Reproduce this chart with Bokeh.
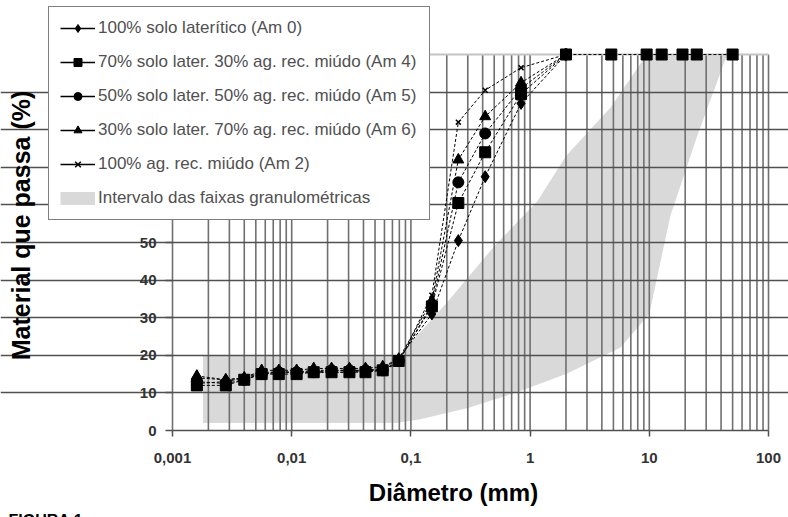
from bokeh.plotting import figure
from bokeh.models import Range1d, FixedTicker, Legend, LegendItem, Label
from bokeh.embed import file_html
from bokeh.resources import INLINE

# ---------------- data ----------------
diam = [0.0016, 0.0028, 0.004, 0.0056, 0.0078, 0.011, 0.0153, 0.0216,
        0.0305, 0.0416, 0.058, 0.079, 0.15, 0.25, 0.42, 0.84, 2.0]
diam_am4 = [0.0016, 0.0028, 0.004, 0.0056, 0.0078, 0.011, 0.0153, 0.0216,
            0.0305, 0.0416, 0.058, 0.079, 0.15, 0.25, 0.42, 0.84, 2.0,
            4.8, 9.5, 12.7, 19.0, 25.0, 50.0]

am0 = [14, 13.5, 14, 15.5, 15.5, 15.5, 16, 16, 16, 16, 16.5, 19, 31, 50.5, 67.5, 87, 100]
am4 = [12, 12, 13.5, 15, 15, 15, 15.5, 15.5, 15.5, 15.5, 16, 18.5, 33, 60.5, 74, 89.5, 100,
       100, 100, 100, 100, 100, 100]
am5 = [13, 12.5, 13.5, 15, 15.5, 15.5, 15.5, 16, 16, 16, 16, 18.5, 33.5, 66, 79, 91, 100]
am6 = [14.5, 13.5, 14, 16, 16, 16, 16.5, 16.5, 16.5, 16.5, 17, 19, 34.5, 72, 83.5, 92.5, 100]
am2 = [12.5, 13, 14, 15, 15.5, 15.5, 15.5, 15.5, 15.5, 16, 16, 18, 36, 82, 90.5, 96.5, 100]

series_names = [
    "100% solo laterítico (Am 0)",
    "70% solo later. 30% ag. rec. miúdo (Am 4)",
    "50% solo later. 50% ag. rec. miúdo (Am 5)",
    "30% solo later. 70% ag. rec. miúdo (Am 6)",
    "100% ag. rec. miúdo (Am 2)",
]
band_name = "Intervalo das faixas granulométricas"

# envelope of the granulometric bands
band_upper_x = [0.0018, 0.08, 0.2, 0.5, 1.15, 2.0, 4.75, 9.5, 45.0]
band_upper_y = [20, 20, 34, 49, 61, 73, 86, 100, 100]
band_lower_x = [0.0018, 0.075, 0.12, 0.3, 0.83, 2.0, 5.7, 10.0, 15.0, 25.0, 45.0]
band_lower_y = [2, 2, 3, 6, 10.5, 15, 22, 31, 57, 78, 100]

x_tick_values = [0.001, 0.01, 0.1, 1, 10, 100]
x_tick_labels = ["0,001", "0,01", "0,1", "1", "10", "100"]
y_tick_values = [0, 10, 20, 30, 40, 50, 60, 70, 80, 90, 100]

# ---------------- layout geometry (pixels) ----------------
W, H = 788, 517
X_LEFT_PX, X_RIGHT_PX = 172, 768      # pixel of 0.001 and of 100
Y_ZERO_PX, Y_HUNDRED_PX = 430, 54     # pixel of 0 % and of 100 %
dec_px = (X_RIGHT_PX - X_LEFT_PX) / 5.0
unit_px = (Y_ZERO_PX - Y_HUNDRED_PX) / 100.0
x0 = 10 ** (-3 - X_LEFT_PX / dec_px)
x1 = 10 ** (2 + (W - X_RIGHT_PX) / dec_px)
y0 = -(H - Y_ZERO_PX) / unit_px
y1 = 100 + Y_HUNDRED_PX / unit_px

FONT = "Liberation Sans"
p = figure(width=W, height=H, x_axis_type="log",
           x_range=Range1d(x0, x1), y_range=Range1d(y0, y1),
           output_backend="svg", toolbar_location=None,
           min_border=0, min_border_left=0, min_border_right=0,
           min_border_top=0, min_border_bottom=0)
p.outline_line_color = None
p.background_fill_color = "white"
p.border_fill_color = "white"

# grid
p.xgrid.visible = False
p.ygrid.ticker = FixedTicker(ticks=[10, 20, 30, 40, 50, 60, 70, 80, 90])
p.ygrid.bounds = (0.001, 100)
p.ygrid.grid_line_color = "#505050"
p.ygrid.grid_line_width = 1.6

vlines = []
for e in range(-3, 2):
    for k in range(1, 10):
        vlines.append(k * 10.0 ** e)
vlines.append(100.0)
p.segment(x0=vlines, y0=[0] * len(vlines), x1=vlines, y1=[100] * len(vlines),
          line_color="#707070", line_width=1.6, level="underlay")
p.segment(x0=[0.001], y0=[100], x1=[100], y1=[100],
          line_color="#c4c4c4", line_width=2, level="underlay")
# x axis rule
p.segment(x0=[0.001], y0=[0], x1=[100], y1=[0],
          line_color="#505050", line_width=1.6, level="underlay")

# band
band_x = band_upper_x + band_lower_x[::-1]
band_y = band_upper_y + band_lower_y[::-1]
p.patch(band_x, band_y, fill_color="#d9d9d9", line_color=None, level="image")

# axes (drawn at fixed data locations inside the canvas)
p.xaxis.fixed_location = 0
p.yaxis.fixed_location = 0.001
p.xaxis.ticker = FixedTicker(ticks=x_tick_values)
p.xaxis.major_label_overrides = dict(zip(x_tick_values, x_tick_labels))
p.yaxis.ticker = FixedTicker(ticks=y_tick_values)
p.xaxis.bounds = (10 ** -3.3, 10 ** 2.014)
p.yaxis.bounds = (0, 109)
for ax in (p.xaxis[0], p.yaxis[0]):
    ax.axis_line_color = None
    ax.minor_tick_line_color = None
    ax.major_tick_line_color = "#505050"
    ax.major_tick_line_width = 1.5
    ax.major_tick_in = 0
    ax.major_label_text_font = FONT
    ax.major_label_text_font_style = "bold"
    ax.major_label_text_font_size = "15px"
    ax.major_label_text_color = "#333333"
    ax.axis_label_text_font = FONT
    ax.axis_label_text_font_style = "bold"
    ax.axis_label_text_color = "black"
p.xaxis.major_tick_out = 6
p.xaxis.major_label_standoff = 16
p.xaxis.axis_label = "Diâmetro (mm)"
p.xaxis.axis_label_text_font_size = "24px"
p.xaxis.axis_label_standoff = 13
p.yaxis.major_tick_out = 7
p.yaxis.major_label_standoff = 9
p.yaxis.axis_label = "Material que passa (%)"
p.yaxis.axis_label_text_font_size = "25px"
p.yaxis.axis_label_standoff = 93

# series
xs_list = [diam, diam_am4, diam, diam, diam]
ys_list = [am0, am4, am5, am6, am2]
markers = ["diamond", "square", "circle", "triangle", "x"]
sizes = [12, 11, 11, 11, 7]
legend_items = []
for xs, ys, mk, sz, name in zip(xs_list, ys_list, markers, sizes, series_names):
    lw = 1.5 if mk == "x" else 1
    # legend sample renderers (one-point line -> invisible in the chart,
    # smaller marker hidden under the series' own first marker)
    lr = p.line(xs[:1], ys[:1], line_color="black", line_width=1.5)
    sr = p.scatter(xs[:1], ys[:1], marker=mk, size=10 if mk != "x" else 6,
                   fill_color="black", line_color="black", line_width=lw)
    p.line(xs, ys, line_color="black", line_width=1, line_dash="3 2")
    p.scatter(xs, ys, marker=mk, size=sz, fill_color="black",
              line_color="black", line_width=lw)
    legend_items.append(LegendItem(label=name, renderers=[lr, sr]))

band_leg = p.line(band_upper_x[:1], band_upper_y[:1], line_color="#d9d9d9",
                  line_width=13, level="image")
legend_items.append(LegendItem(label=band_name, renderers=[band_leg]))

legend = Legend(items=legend_items, location=(48, H - 220))
legend.border_line_color = "black"
legend.border_line_width = 1
legend.background_fill_color = "white"
legend.background_fill_alpha = 1
legend.padding = 11
legend.spacing = 14
legend.margin = 0
legend.glyph_width = 35
legend.glyph_height = 20
legend.label_height = 20
legend.label_standoff = 3
legend.label_width = 320
legend.label_text_font = FONT
legend.label_text_font_size = "17px"
legend.label_text_color = "#505050"
p.add_layout(legend, "center")

fig_label = Label(x=8, y=-3, x_units="screen", y_units="screen",
                  text="FIGURA 1", text_font=FONT, text_font_style="bold",
                  text_font_size="16px", text_color="black",
                  text_baseline="alphabetic")
p.add_layout(fig_label)

open("out.html", "w").write(file_html(p, INLINE))
